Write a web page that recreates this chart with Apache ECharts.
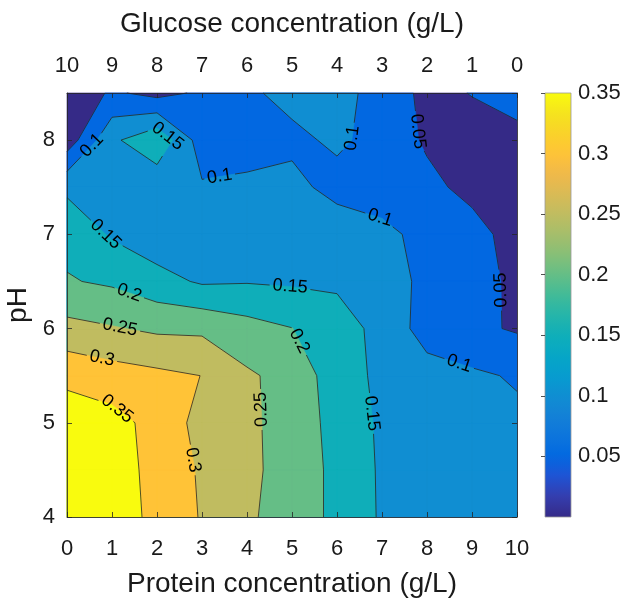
<!DOCTYPE html>
<html><head><meta charset="utf-8">
<script src="https://cdn.jsdelivr.net/npm/echarts@6/dist/echarts.min.js"></script>
<style>html,body{margin:0;padding:0;background:#fff}#c{width:625px;height:600px}</style>
</head><body><div id="c"></div>
<script>
// ---------- data ----------
const proteinGrid = [0, 1, 2, 3, 4, 5, 6, 7, 8, 9, 10];          // g/L (bottom axis)
const pHGrid = [4, 4.5, 5, 5.5, 6, 6.5, 7, 7.5, 8, 8.5];           // pH (left axis)
// response value at each pH row, across protein 0..10 g/L
const zPH4_0 = [0.382, 0.360, 0.345, 0.2955, 0.262, 0.214, 0.194, 0.1434, 0.130, 0.125, 0.120];
const zPH4_5 = [0.380, 0.365, 0.340, 0.2924, 0.260, 0.2322, 0.1862, 0.1436, 0.130, 0.125, 0.118];
const zPH5_0 = [0.377, 0.3673, 0.3334, 0.2828, 0.258, 0.2338, 0.1801, 0.1425, 0.128, 0.120, 0.110];
const zPH5_5 = [0.338, 0.3218, 0.3111, 0.2995, 0.257, 0.2329, 0.1731, 0.1391, 0.125, 0.108, 0.095];
const zPH6_0 = [0.265, 0.2537, 0.2417, 0.2406, 0.2186, 0.201, 0.160, 0.1433, 0.0735, 0.060, 0.045];
const zPH6_5 = [0.2036, 0.1927, 0.1672, 0.1439, 0.1471, 0.1436, 0.1465, 0.130, 0.0845, 0.070, 0.0388];
const zPH7_0 = [0.1855, 0.1442, 0.1194, 0.125, 0.125, 0.125, 0.125, 0.115, 0.0817, 0.0722, 0.025];
const zPH7_5 = [0.140, 0.140, 0.113, 0.105, 0.110, 0.112, 0.086, 0.0709, 0.065, 0.0331, 0.020];
const zPH8_0 = [0.021, 0.140, 0.190, 0.075, 0.0788, 0.0906, 0.1072, 0.0854, 0.042, 0.030, 0.0355];
const zPH8_5 = [0.010, 0.0576, 0.0346, 0.0576, 0.0933, 0.112, 0.115, 0.0831, 0.0358, 0.0518, 0.070];
const contourLevels = [0.05, 0.1, 0.15, 0.2, 0.25, 0.3, 0.35];
const colorbarRange = [0, 0.35];
const proteinTicks = [0, 1, 2, 3, 4, 5, 6, 7, 8, 9, 10];
const glucoseTicks = [10, 9, 8, 7, 6, 5, 4, 3, 2, 1, 0];
const pHTicks = [4, 5, 6, 7, 8];
// contour label anchors: level, protein, pH
const labelLevels = [0.1, 0.15, 0.1, 0.1, 0.05, 0.1, 0.15, 0.15, 0.2, 0.25, 0.3, 0.35, 0.3, 0.25, 0.2, 0.15, 0.1, 0.05];
const labelProtein = [0.56, 2.25, 3.4, 6.2, 7.76, 7.02, 0.8, 4.96, 1.4, 1.18, 0.78, 1.07, 2.73, 4.26, 5.22, 6.78, 8.78, 9.78];
const labelPH = [7.94, 8.05, 7.59, 8.03, 8.09, 7.27, 6.97, 6.46, 6.4, 6.02, 5.69, 5.12, 4.6, 5.14, 5.88, 5.1, 5.72, 6.41];

const zRows = [zPH4_0, zPH4_5, zPH5_0, zPH5_5, zPH6_0, zPH6_5, zPH7_0, zPH7_5, zPH8_0, zPH8_5];

// style: labels (by index) that read bottom-to-top when vertical
const readUpLabels = [13, 17];

// parula colormap (MATLAB), subsampled
const parula = [
 [0.2081,0.1663,0.5292],[0.2081,0.2386,0.6771],[0.1253,0.3242,0.8303],[0.0060,0.4086,0.8828],
 [0.0498,0.4586,0.8641],[0.0779,0.5040,0.8384],[0.0641,0.5570,0.8240],[0.0265,0.6137,0.8135],
 [0.0228,0.6535,0.7768],[0.0590,0.6838,0.7254],[0.1453,0.7098,0.6646],[0.2586,0.7317,0.5954],
 [0.3953,0.7459,0.5244],[0.5300,0.7491,0.4661],[0.6473,0.7456,0.4188],[0.7525,0.7384,0.3768],
 [0.8507,0.7299,0.3360],[0.9450,0.7261,0.2886],[0.9990,0.7653,0.2164],[0.9789,0.8271,0.1633],
 [0.9589,0.8949,0.1132],[0.9763,0.9831,0.0538]
];
function parulaAt(t){
  t = Math.max(0, Math.min(1, t));
  const f = t * (parula.length - 1), i = Math.min(parula.length - 2, Math.floor(f)), u = f - i;
  const c = parula[i].map((v, k) => Math.round(255 * (v + u * (parula[i + 1][k] - v))));
  return 'rgb(' + c.join(',') + ')';
}
const span = colorbarRange[1] - colorbarRange[0];
const bandColors = [parulaAt(0)].concat(contourLevels.map(l => parulaAt((l - colorbarRange[0]) / span)));

const FONT = '"Liberation Sans", Arial, Helvetica, sans-serif';
const INK = '#1a1a1a';

function cross(a, b, lv){
  const t = (lv - a.z) / (b.z - a.z);
  return {x: a.x + t * (b.x - a.x), y: a.y + t * (b.y - a.y), z: lv};
}
function clipAbove(c, lv){
  const ab = c.map(p => p.z >= lv);
  const n = ab.filter(Boolean).length;
  if (n === 0) return [];
  if (n === 4) return [c];
  const center = (c[0].z + c[1].z + c[2].z + c[3].z) / 4;
  if (n === 2 && ab[0] === ab[2] && center < lv){
    const res = [];
    for (let k = 0; k < 4; k++) if (ab[k]){
      const prev = c[(k + 3) % 4], cur = c[k], next = c[(k + 1) % 4];
      res.push([cross(prev, cur, lv), cur, cross(cur, next, lv)]);
    }
    return res;
  }
  const out = [];
  for (let k = 0; k < 4; k++){
    const a = c[k], b = c[(k + 1) % 4];
    if (ab[k]) out.push(a);
    if (ab[k] !== ab[(k + 1) % 4]) out.push(cross(a, b, lv));
  }
  return [out];
}
function cellSegs(c, lv){
  const ab = c.map(p => p.z >= lv);
  const xs = [];
  for (let k = 0; k < 4; k++){
    const a = c[k], b = c[(k + 1) % 4];
    xs.push(ab[k] !== ab[(k + 1) % 4] ? cross(a, b, lv) : null);
  }
  const found = xs.filter(Boolean);
  if (found.length === 2) return [[found[0], found[1]]];
  if (found.length === 4){
    const center = (c[0].z + c[1].z + c[2].z + c[3].z) / 4;
    const cAbove = center >= lv;
    const segs = [];
    for (let k = 0; k < 4; k++){
      if ((cAbove && !ab[k]) || (!cAbove && ab[k])) segs.push([xs[(k + 3) % 4], xs[k]]);
    }
    return segs;
  }
  return [];
}

const measureCtx = document.createElement('canvas').getContext('2d');
const LABEL_SIZE = 18;
function textWidth(s){ measureCtx.font = LABEL_SIZE + 'px ' + FONT; return measureCtx.measureText(s).width; }
function fmt(v){ return String(parseFloat(v.toFixed(2))); }

function renderContour(params, api){
  const P = (x, y) => api.coord([x, y]);
  const nx = proteinGrid.length, ny = pHGrid.length;
  const fills = bandColors.map(() => '');
  const segsPx = contourLevels.map(() => []);
  const toPath = poly => {
    let s = '';
    poly.forEach((p, k) => { const q = P(p.x, p.y); s += (k ? 'L' : 'M') + q[0].toFixed(2) + ' ' + q[1].toFixed(2); });
    return s + 'Z';
  };
  fills[0] = toPath([{x: proteinGrid[0], y: pHGrid[0]}, {x: proteinGrid[nx - 1], y: pHGrid[0]},
                     {x: proteinGrid[nx - 1], y: pHGrid[ny - 1]}, {x: proteinGrid[0], y: pHGrid[ny - 1]}]);
  for (let j = 0; j < ny - 1; j++){
    for (let i = 0; i < nx - 1; i++){
      const c = [
        {x: proteinGrid[i], y: pHGrid[j], z: zRows[j][i]},
        {x: proteinGrid[i + 1], y: pHGrid[j], z: zRows[j][i + 1]},
        {x: proteinGrid[i + 1], y: pHGrid[j + 1], z: zRows[j + 1][i + 1]},
        {x: proteinGrid[i], y: pHGrid[j + 1], z: zRows[j + 1][i]}
      ];
      contourLevels.forEach((lv, k) => {
        clipAbove(c, lv).forEach(poly => { fills[k + 1] += toPath(poly); });
        cellSegs(c, lv).forEach(s => segsPx[k].push([P(s[0].x, s[0].y), P(s[1].x, s[1].y)]));
      });
    }
  }
  const children = [];
  fills.forEach((d, k) => {
    if (!d) return;
    children.push({type: 'path', shape: {pathData: d}, style: {fill: bandColors[k], stroke: bandColors[k], lineWidth: 0.6}});
  });
  const circles = contourLevels.map(() => []);
  const labels = [];
  labelLevels.forEach((lv, n) => {
    const k = contourLevels.findIndex(l => Math.abs(l - lv) < 1e-9);
    const h = P(labelProtein[n], labelPH[n]);
    let best = null;
    segsPx[k].forEach(s => {
      const a = s[0], b = s[1], dx = b[0] - a[0], dy = b[1] - a[1], L2 = dx * dx + dy * dy;
      if (L2 < 1e-6) return;
      let t = ((h[0] - a[0]) * dx + (h[1] - a[1]) * dy) / L2; t = Math.max(0, Math.min(1, t));
      const px = a[0] + t * dx, py = a[1] + t * dy, d = Math.hypot(px - h[0], py - h[1]);
      if (!best || d < best.d) best = {d, x: px, y: py, dx, dy};
    });
    if (!best) return;
    let ang = Math.atan2(-best.dy, best.dx);
    if (ang > Math.PI / 2) ang -= Math.PI;
    if (ang <= -Math.PI / 2) ang += Math.PI;
    if (readUpLabels.indexOf(n) >= 0 && ang < 0) ang += Math.PI;
    const txt = fmt(lv), w = textWidth(txt);
    circles[k].push({x: best.x, y: best.y, r: w / 2 + 3});
    labels.push({type: 'text', x: best.x, y: best.y, rotation: ang,
      style: {text: txt, fill: '#000', fontSize: LABEL_SIZE, fontFamily: FONT, align: 'center', verticalAlign: 'middle'}});
  });
  segsPx.forEach((segs, k) => {
    let d = '';
    segs.forEach(s => {
      const a = s[0], b = s[1], dx = b[0] - a[0], dy = b[1] - a[1], L2 = dx * dx + dy * dy;
      let iv = [[0, 1]];
      circles[k].forEach(c => {
        if (L2 === 0) return;
        const fx = a[0] - c.x, fy = a[1] - c.y;
        const B = 2 * (fx * dx + fy * dy), C = fx * fx + fy * fy - c.r * c.r, disc = B * B - 4 * L2 * C;
        if (disc <= 0) return;
        const sq = Math.sqrt(disc), t1 = (-B - sq) / (2 * L2), t2 = (-B + sq) / (2 * L2);
        const nx2 = [];
        iv.forEach(([u, v]) => {
          if (t2 <= u || t1 >= v) { nx2.push([u, v]); return; }
          if (t1 > u) nx2.push([u, t1]);
          if (t2 < v) nx2.push([t2, v]);
        });
        iv = nx2;
      });
      iv.forEach(([u, v]) => {
        d += 'M' + (a[0] + u * dx).toFixed(2) + ' ' + (a[1] + u * dy).toFixed(2) +
             'L' + (a[0] + v * dx).toFixed(2) + ' ' + (a[1] + v * dy).toFixed(2);
      });
    });
    if (d) children.push({type: 'path', shape: {pathData: d}, style: {fill: null, stroke: '#262626', lineWidth: 0.8}});
  });
  return {type: 'group', children: children.concat(labels)};
}

function renderColorbar(params, api){
  const p0 = api.coord([0, colorbarRange[0]]), p1 = api.coord([1, colorbarRange[1]]);
  const stops = [];
  for (let i = 0; i <= 40; i++) stops.push({offset: i / 40, color: parulaAt(i / 40)});
  return {type: 'rect', shape: {x: p0[0], y: p1[1], width: p1[0] - p0[0], height: p0[1] - p1[1]},
    style: {fill: new echarts.graphic.LinearGradient(0, 1, 0, 0, stops), stroke: '#9a9a9a', lineWidth: 0.8}};
}

const axisCommon = {
  axisLine: {show: true, lineStyle: {color: '#262626', width: 0.8}},
  axisTick: {show: true, inside: true, length: 5, lineStyle: {color: '#262626', width: 0.8}},
  splitLine: {show: false},
  axisLabel: {color: INK, fontSize: 22, fontFamily: FONT, margin: 19},
  nameTextStyle: {color: INK, fontSize: 28, fontFamily: FONT},
  z: 5
};

const chart = echarts.init(document.getElementById('c'), null, {renderer: 'canvas'});
chart.setOption({
  animation: false,
  backgroundColor: '#fff',
  grid: [
    {left: 67, right: 108, top: 93, bottom: 83, containLabel: false, outerBoundsMode: 'none'},
    {left: 545, width: 26, top: 93, bottom: 83, containLabel: false, outerBoundsMode: 'none'}
  ],
  xAxis: [
    Object.assign({}, axisCommon, {type: 'value', gridIndex: 0, position: 'bottom', min: proteinTicks[0], max: proteinTicks[proteinTicks.length - 1], interval: 1,
      name: 'Protein concentration (g/L)', nameLocation: 'middle', nameGap: 53,
      axisLabel: Object.assign({}, axisCommon.axisLabel, {margin: 21})}),
    Object.assign({}, axisCommon, {type: 'value', gridIndex: 0, position: 'top', inverse: true,
      min: glucoseTicks[glucoseTicks.length - 1], max: glucoseTicks[0], interval: 1,
      name: 'Glucose concentration (g/L)', nameLocation: 'middle', nameGap: 55,
      axisLabel: Object.assign({}, axisCommon.axisLabel, {margin: 16})}),
    {type: 'value', gridIndex: 1, min: 0, max: 1, show: false}
  ],
  yAxis: [
    Object.assign({}, axisCommon, {type: 'value', gridIndex: 0, position: 'left', min: pHTicks[0], max: pHGrid[pHGrid.length - 1], interval: 1,
      name: 'pH', nameLocation: 'middle', nameGap: 28, nameRotate: 90,
      axisLabel: Object.assign({}, axisCommon.axisLabel, {margin: 12, showMaxLabel: false, formatter: v => (pHTicks.indexOf(v) >= 0 ? String(v) : '')})}),
    Object.assign({}, axisCommon, {type: 'value', gridIndex: 0, position: 'right', min: pHTicks[0], max: pHGrid[pHGrid.length - 1], interval: 1,
      axisLabel: {show: false}}),
    {type: 'value', gridIndex: 1, position: 'right', min: colorbarRange[0], max: colorbarRange[1], interval: 0.05,
      axisLine: {show: false}, splitLine: {show: false},
      axisTick: {show: true, inside: true, length: 4, lineStyle: {color: '#262626', width: 0.8}},
      axisLabel: {color: INK, fontSize: 22, fontFamily: FONT, margin: 7, showMinLabel: false,
        formatter: v => (v > 1e-9 ? fmt(v) : '')}, z: 5}
  ],
  series: [
    {type: 'custom', xAxisIndex: 0, yAxisIndex: 0, silent: true, z: 1, data: [[proteinGrid[0], pHGrid[0]]], renderItem: renderContour},
    {type: 'custom', xAxisIndex: 2, yAxisIndex: 2, silent: true, z: 1, data: [[0, colorbarRange[0]]], renderItem: renderColorbar}
  ]
});
</script>
</body></html>
